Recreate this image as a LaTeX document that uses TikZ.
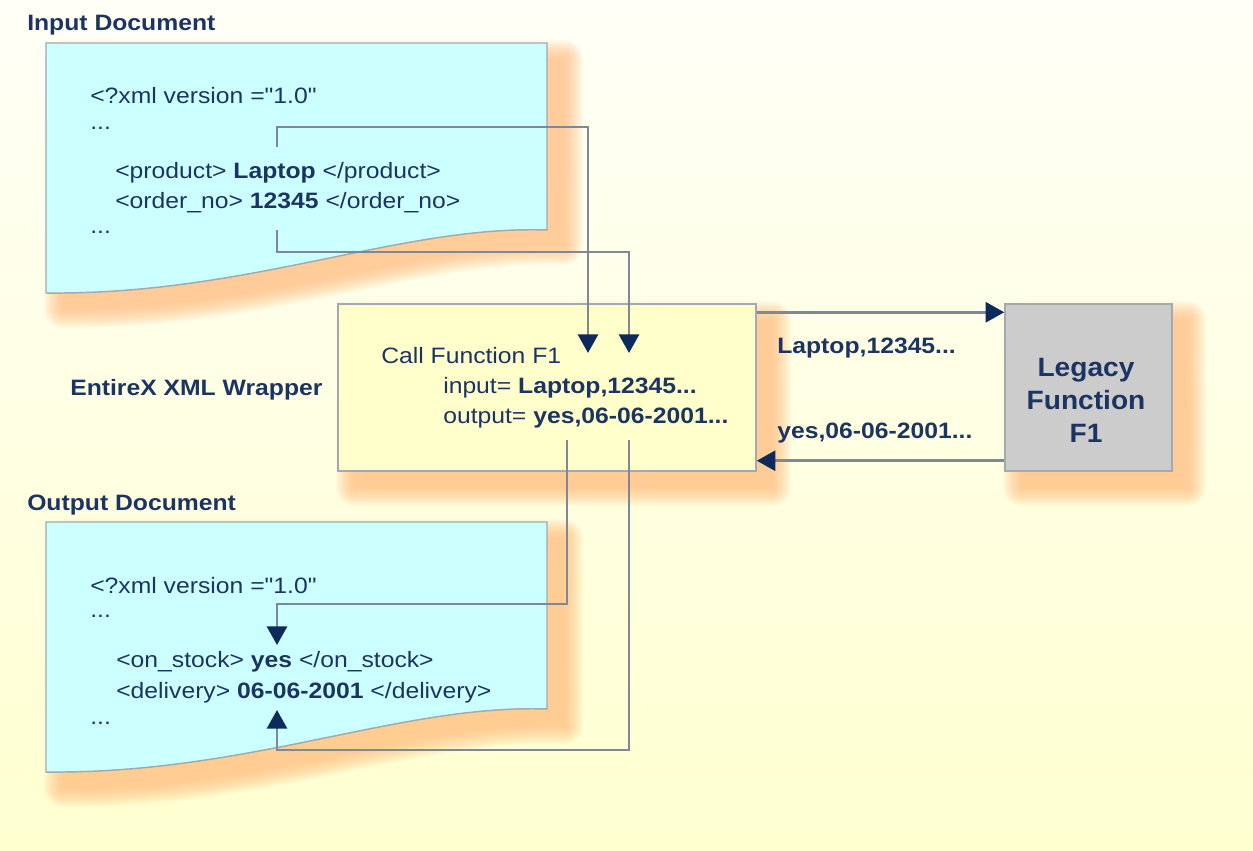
\documentclass[tikz,border=0pt]{standalone}
\usepackage{fontspec}
\setmainfont{Liberation Sans}[Ligatures=TeXOff]
\usepackage{graphicx}
\usetikzlibrary{arrows.meta,calc}
\definecolor{bgtop}{RGB}{255,255,247}
\definecolor{bgbot}{RGB}{255,255,208}
\definecolor{docfill}{RGB}{204,255,255}
\definecolor{wrapfill}{RGB}{255,255,204}
\definecolor{legfill}{RGB}{204,204,204}
\definecolor{edge}{RGB}{160,170,176}
\definecolor{txt}{RGB}{28,52,98}
\definecolor{wire}{RGB}{128,136,150}
\definecolor{tipcol}{RGB}{12,42,92}
\definecolor{shcol}{RGB}{255,185,120}
\newcommand\sx[1]{\scalebox{1.11}[1]{#1}}
\newcommand\qq{\symbol{34}}
\tikzset{
  lbl/.style={anchor=base west, inner sep=0pt, text=txt, font=\fontsize{16.7}{20}\selectfont},
  blbl/.style={lbl, font=\fontsize{16.7}{20}\selectfont\bfseries},
  wirestyle/.style={draw=wire, line width=2.2pt, -{Triangle[width=15pt,length=14pt,color=tipcol]}},
  shadowlayer/.style={fill=shcol, draw=shcol, line width=#1, line join=round},
  docpath/.style={insert path={(46,43) -- (547,43) -- (547,230) .. controls (400,225) and (250,295) .. (46,293) -- cycle}},
  rectbox/.style={draw=edge, line width=1.1pt, inner sep=0pt, minimum width=#1},
}
\begin{document}
\begin{tikzpicture}[x=0.75pt,y=-0.75pt]
\useasboundingbox (0,0) rectangle (1253,850);
\fill[top color=bgtop, bottom color=bgbot] (0,0) rectangle (1253,850);
% shadows
\foreach \w in {0.5pt,2.5pt,4.5pt,6.5pt,8.5pt,10.5pt,12.5pt,14.5pt,16.5pt,18.5pt,20.5pt,22.5pt,24.5pt,26.5pt,28.5pt}{
  \begin{scope}[transparency group, opacity=0.07]
    \path[shift={(17,16)}, shadowlayer=\w, docpath];
  \end{scope}
  \begin{scope}[transparency group, opacity=0.07]
    \path[shift={(17,495)}, shadowlayer=\w, docpath];
  \end{scope}
  \begin{scope}[transparency group, opacity=0.07]
    \path[shadowlayer=\w] (355,320) rectangle (772,487);
  \end{scope}
  \begin{scope}[transparency group, opacity=0.07]
    \path[shadowlayer=\w] (1022,320) rectangle (1187,487);
  \end{scope}
}
% documents
\path[fill=docfill, draw=edge, line width=1.1pt, docpath];
\path[shift={(0,479)}, fill=docfill, draw=edge, line width=1.1pt, docpath];
% boxes
\node[rectbox=313.5pt, minimum height=125.25pt, fill=wrapfill] (wrap) at (547,387.5) {};
\node[rectbox=125.25pt, minimum height=125.25pt, fill=legfill] (legbox) at (1088.5,387.5) {};
% titles and texts
\node[blbl] (tin) at (27,30) {\sx{Input Document}};
\node[blbl] (tout) at (27,510) {\sx{Output Document}};
\node[blbl] (tw) at (70,395) {\sx{EntireX XML Wrapper}};
\node[lbl] (i1) at (90,103) {\sx{<?xml version =\qq1.0\qq}};
\node[lbl] (i2) at (90,129) {\sx{...}};
\node[lbl] (i3) at (115,178) {\sx{<product> \textbf{Laptop} </product>}};
\node[lbl] (i4) at (115,208) {\sx{<order\_no> \textbf{12345} </order\_no>}};
\node[lbl] (i5) at (90,233) {\sx{...}};
\node[lbl] (o1) at (90,593) {\sx{<?xml version =\qq1.0\qq}};
\node[lbl] (o2) at (90,617) {\sx{...}};
\node[lbl] (o3) at (116,667) {\sx{<on\_stock> \textbf{yes} </on\_stock>}};
\node[lbl] (o4) at (116,698) {\sx{<delivery> \textbf{06-06-2001} </delivery>}};
\node[lbl] (o5) at (90,724) {\sx{...}};
\node[lbl] (w1) at (381,363) {\sx{Call Function F1}};
\node[lbl] (w2) at (443,393) {\sx{input= \textbf{Laptop,12345...}}};
\node[lbl] (w3) at (443,423) {\sx{output= \textbf{yes,06-06-2001...}}};
\node[blbl] (l1) at (777,353) {\sx{Laptop,12345...}};
\node[blbl] (l2) at (777,438) {\sx{yes,06-06-2001...}};
\node[anchor=north, inner sep=0pt, text=txt, align=center,
      font=\fontsize{19.9}{24.75}\selectfont\bfseries] (legtxt) at (1086,358)
      {\scalebox{1.06}[1]{Legacy}\\\scalebox{1.06}[1]{Function}\\\scalebox{1.06}[1]{F1}};
% connectors
\coordinate (s1) at (277,147);
\coordinate (e1) at (588,353);
\coordinate (s2) at (277,230);
\coordinate (e2) at (629,353);
\coordinate (s3) at (567,440);
\coordinate (e3) at (277,645);
\coordinate (s4) at (629,440);
\coordinate (e4) at (277,710);
\draw[wirestyle] (s1) -- (277,127) -- (588,127) -- (e1);
\draw[wirestyle] (s2) -- (277,252) -- (629,252) -- (e2);
\draw[wirestyle] (s3) -- (567,604) -- (277,604) -- (e3);
\draw[wirestyle] (s4) -- (629,750) -- (277,750) -- (e4);
\draw[wirestyle] ($(wrap.north east)+(0,9)$) -- ($(legbox.north west)+(0,9)$);
\draw[wirestyle] ($(legbox.south west)+(0,-11)$) -- ($(wrap.south east)+(0,-11)$);
\end{tikzpicture}
\end{document}
